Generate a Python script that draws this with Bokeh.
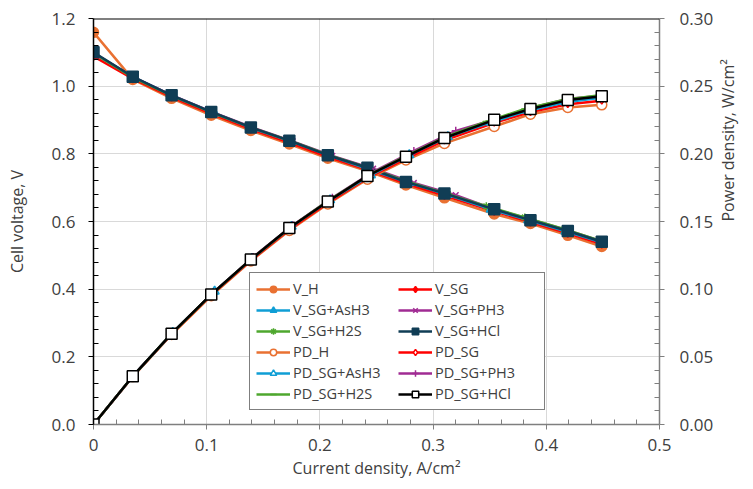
import math
from bokeh.plotting import figure
from bokeh.models import (Range1d, LinearAxis, Legend, LegendItem, NumeralTickFormatter,
                          FixedTicker, Span)
from bokeh.embed import file_html
from bokeh.resources import INLINE

# ---------------- data ----------------
I_MAIN = [0, 0.0347, 0.069, 0.104, 0.139, 0.173, 0.207, 0.242, 0.276, 0.310, 0.354, 0.386, 0.419, 0.449]
I_ASH3 = [0, 0.035, 0.070, 0.107, 0.140, 0.175, 0.209, 0.245, 0.279, 0.313, 0.351, 0.384, 0.417, 0.448]
I_PH3 = [0, 0.035, 0.070, 0.105, 0.141, 0.176, 0.211, 0.247, 0.283, 0.320, 0.352, 0.387, 0.420, 0.449]
I_H2S = [0, 0.034, 0.069, 0.104, 0.139, 0.174, 0.208, 0.243, 0.278, 0.313, 0.347, 0.381, 0.416, 0.449]

V_H = [1.159, 1.020, 0.964, 0.914, 0.869, 0.829, 0.787, 0.749, 0.708, 0.670, 0.622, 0.594, 0.559, 0.526]
V_SG = [1.088, 1.022, 0.968, 0.919, 0.873, 0.833, 0.791, 0.753, 0.712, 0.677, 0.630, 0.598, 0.565, 0.533]
V_ASH3 = [1.098, 1.027, 0.971, 0.920, 0.876, 0.836, 0.794, 0.752, 0.714, 0.679, 0.636, 0.604, 0.571, 0.539]
V_PH3 = [1.097, 1.027, 0.972, 0.923, 0.877, 0.837, 0.794, 0.756, 0.714, 0.678, 0.639, 0.605, 0.573, 0.541]
V_H2S = [1.098, 1.027, 0.972, 0.923, 0.878, 0.838, 0.796, 0.758, 0.717, 0.681, 0.645, 0.612, 0.577, 0.542]
V_HCL = [1.100, 1.028, 0.973, 0.924, 0.878, 0.839, 0.796, 0.759, 0.717, 0.683, 0.636, 0.604, 0.572, 0.540]

PD_H = [0, 0.0354, 0.0665, 0.0951, 0.1208, 0.1434, 0.1629, 0.1813, 0.1954, 0.2077, 0.2202, 0.2293, 0.2342, 0.2362]
PD_SG = [0, 0.0355, 0.0668, 0.0956, 0.1213, 0.1441, 0.1637, 0.1822, 0.1965, 0.2099, 0.2230, 0.2308, 0.2367, 0.2393]
PD_ASH3 = [0, 0.0359, 0.0680, 0.0984, 0.1226, 0.1463, 0.1659, 0.1842, 0.1992, 0.2125, 0.2232, 0.2319, 0.2381, 0.2415]
PD_PH3 = [0, 0.0359, 0.0680, 0.0969, 0.1237, 0.1473, 0.1675, 0.1867, 0.2021, 0.2170, 0.2249, 0.2341, 0.2407, 0.2429]
PD_H2S = [0, 0.0349, 0.0671, 0.0960, 0.1220, 0.1458, 0.1656, 0.1842, 0.1993, 0.2132, 0.2238, 0.2332, 0.2400, 0.2434]
PD_HCL = [0, 0.0357, 0.0671, 0.0961, 0.1220, 0.1452, 0.1648, 0.1837, 0.1979, 0.2117, 0.2251, 0.2331, 0.2397, 0.2425]

X_TICKS = [0, 0.1, 0.2, 0.3, 0.4, 0.5]
Y_TICKS = [0, 0.2, 0.4, 0.6, 0.8, 1.0, 1.2]
Y2_TICKS = [0, 0.05, 0.10, 0.15, 0.20, 0.25, 0.30]
X_TICK_FMT = "0.[0]"
Y_TICK_FMT = "0.0"
Y2_TICK_FMT = "0.00"
X_LABEL = "Current density, A/cm²"
Y_LABEL = "Cell voltage, V"
Y2_LABEL = "Power density, W/cm²"

FONT = "Open Sans"
TXT = "#404040"


def minors(ticks, n=5):
    out = []
    for a, b in zip(ticks[:-1], ticks[1:]):
        out += [a + (b - a) * k / n for k in range(1, n)]
    return out


p = figure(width=753, height=489, output_backend="svg", toolbar_location=None,
           x_range=Range1d(0, 0.5), y_range=Range1d(0, 1.2),
           min_border_left=93, min_border_right=93, min_border_top=18, min_border_bottom=65)
p.outline_line_color = None
p.background_fill_color = "white"
p.border_fill_color = "white"
p.extra_y_ranges = {"pd": Range1d(0, 0.3)}

xa = p.xaxis[0]
ya = p.yaxis[0]
xa.ticker = FixedTicker(ticks=X_TICKS, minor_ticks=minors(X_TICKS))
ya.ticker = FixedTicker(ticks=Y_TICKS, minor_ticks=minors(Y_TICKS))
xa.formatter = NumeralTickFormatter(format=X_TICK_FMT)
ya.formatter = NumeralTickFormatter(format=Y_TICK_FMT)
ya2 = LinearAxis(y_range_name="pd", ticker=FixedTicker(ticks=Y2_TICKS, minor_ticks=minors(Y2_TICKS)),
                 formatter=NumeralTickFormatter(format=Y2_TICK_FMT))
p.add_layout(ya2, "right")

xa.axis_label = X_LABEL
ya.axis_label = Y_LABEL
ya2.axis_label = Y2_LABEL

for ax, col in ((xa, "#7f7f7f"), (ya, "black"), (ya2, "#7f7f7f")):
    ax.axis_line_color = col
    ax.axis_line_width = 1.5
    ax.major_tick_line_color = col
    ax.minor_tick_line_color = col
    ax.major_tick_out = 5
    ax.major_tick_in = 0
    ax.minor_tick_in = 5
    ax.minor_tick_out = 0
    ax.major_label_text_font = FONT
    ax.major_label_text_font_size = "17px"
    ax.major_label_text_color = TXT
    ax.axis_label_text_font = FONT
    ax.axis_label_text_font_size = "16px"
    ax.axis_label_text_color = TXT
    ax.axis_label_text_font_style = "normal"

ya.major_label_standoff = 13
ya2.major_label_standoff = 15
xa.major_label_standoff = 9
ya.axis_label_standoff = 21
ya2.axis_label_standoff = 12
xa.axis_label_standoff = 3
ya2.axis_label_orientation = math.pi / 2

p.xgrid.grid_line_color = "#d9d9d9"
p.ygrid.grid_line_color = "#d9d9d9"
p.xgrid.ticker = FixedTicker(ticks=X_TICKS)
p.ygrid.ticker = FixedTicker(ticks=Y_TICKS)

p.add_layout(Span(location=1.2, dimension="width", line_color="black", line_width=2))

ORANGE = "#E97132"
RED = "#FF0000"
CYAN = "#0F9ED5"
PURPLE = "#A02B93"
GREEN = "#4EA72E"
NAVY = "#103D55"

LW = 2.5
items = {}


def series(name, xs, ys, color, marker, size, fill, rng="default", lw=LW):
    kw = {} if rng == "default" else {"y_range_name": rng}
    l = p.line(xs, ys, line_color=color, line_width=lw, **kw)
    s = p.scatter(xs, ys, marker=marker, size=size, line_color=color, fill_color=fill,
                  line_width=1.5, **kw)
    items[name] = [l, s]


series("V_H", I_MAIN, V_H, ORANGE, "circle", 10, ORANGE)
series("V_SG", I_MAIN, V_SG, RED, "diamond", 8, RED)
series("V_SG+AsH3", I_ASH3, V_ASH3, CYAN, "triangle", 9, CYAN)
series("V_SG+PH3", I_PH3, V_PH3, PURPLE, "x", 8, PURPLE)
series("V_SG+H2S", I_H2S, V_H2S, GREEN, "asterisk", 8, GREEN)
series("V_SG+HCl", I_MAIN, V_HCL, NAVY, "square", 11, NAVY)
series("PD_H", I_MAIN, PD_H, ORANGE, "circle", 10, "white", "pd")
series("PD_SG", I_MAIN, PD_SG, RED, "diamond", 7, "white", "pd")
series("PD_SG+AsH3", I_ASH3, PD_ASH3, CYAN, "triangle", 9, "white", "pd")
series("PD_SG+PH3", I_PH3, PD_PH3, PURPLE, "cross", 8, PURPLE, "pd")
series("PD_SG+H2S", I_H2S, PD_H2S, GREEN, "dash", 7, GREEN, "pd")
series("PD_SG+HCl", I_MAIN, PD_HCL, "black", "square", 11, "white", "pd")

# legend laid out column by column (Bokeh fills columns first)
order = ["V_H", "V_SG+AsH3", "V_SG+H2S", "PD_H", "PD_SG+AsH3", "PD_SG+H2S",
         "V_SG", "V_SG+PH3", "V_SG+HCl", "PD_SG", "PD_SG+PH3", "PD_SG+HCl"]
legend = Legend(items=[LegendItem(label=n, renderers=items[n]) for n in order],
                location=(156, 14), ncols=2, orientation="vertical")
legend.border_line_color = "black"
legend.border_line_width = 1.5
legend.background_fill_alpha = 1
legend.label_text_font = FONT
legend.label_text_font_size = "14.5px"
legend.label_text_color = TXT
legend.glyph_width = 34
legend.glyph_height = 16
legend.label_height = 16
legend.label_width = 103
legend.spacing = 2
legend.padding = 6
legend.margin = 0
legend.label_standoff = 3
p.add_layout(legend, "center")

open("out.html", "w").write(file_html(p, INLINE))
